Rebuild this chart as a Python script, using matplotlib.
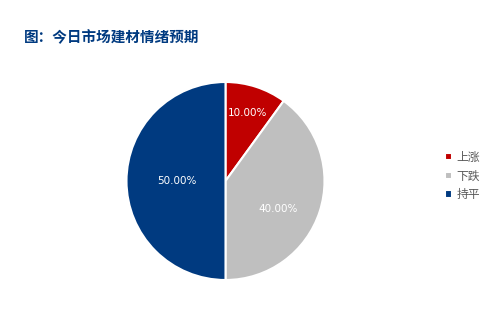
import matplotlib
matplotlib.use('Agg')
import matplotlib.pyplot as plt
import numpy as np

# Dados
categorias = ['上涨', '下跌', '持平']
valores = [10, 40, 50]
cores = ['#C00000', '#BFBFBF', '#003A80']

plt.rcParams['font.family'] = ['Noto Sans CJK SC', 'DejaVu Sans']

W, H = 501, 311
fig = plt.figure(figsize=(W / 100, H / 100), dpi=100)
fig.patch.set_facecolor('white')

# eixo do pizza (centro ~ (225.5, 181) px, raio ~99 px)
cx, cy, r = 225.5, 181, 99
ax = fig.add_axes([(cx - r) / W, (H - cy - r) / H, 2 * r / W, 2 * r / H])

wedges, texts, autotexts = ax.pie(
    valores, colors=cores, startangle=90, counterclock=False,
    autopct='%.2f%%', pctdistance=0.6,
    wedgeprops=dict(edgecolor='white', linewidth=1.5),
    textprops=dict(color='white', fontsize=7.5, family='DejaVu Sans'))
ax.set_xlim(-1, 1)
ax.set_ylim(-1, 1)
ax.set_aspect('equal')

# ajuste dos rótulos (estilo Excel)
ajustes = [(0.72, 0.0), (0.6, -10.0), (0.49, 0.0)]
for w, t, (dist, dang) in zip(wedges, autotexts, ajustes):
    ang = np.deg2rad((w.theta1 + w.theta2) / 2 + dang)
    t.set_position((dist * np.cos(ang), dist * np.sin(ang)))

# título
fig.text(24 / W, 1 - 37 / H, '图：今日市场建材情绪预期', fontsize=10.5,
         fontweight='bold', color='#003A80', va='center', ha='left')

# legenda
leg = fig.legend(wedges, categorias, loc='center left',
                 bbox_to_anchor=(434 / W, 1 - 176 / H), frameon=False,
                 fontsize=8.5, handlelength=0.6, handleheight=0.6,
                 handletextpad=0.4, labelspacing=0.5)
for txt in leg.get_texts():
    txt.set_color('#595959')

fig.savefig('out.png', dpi=100)
